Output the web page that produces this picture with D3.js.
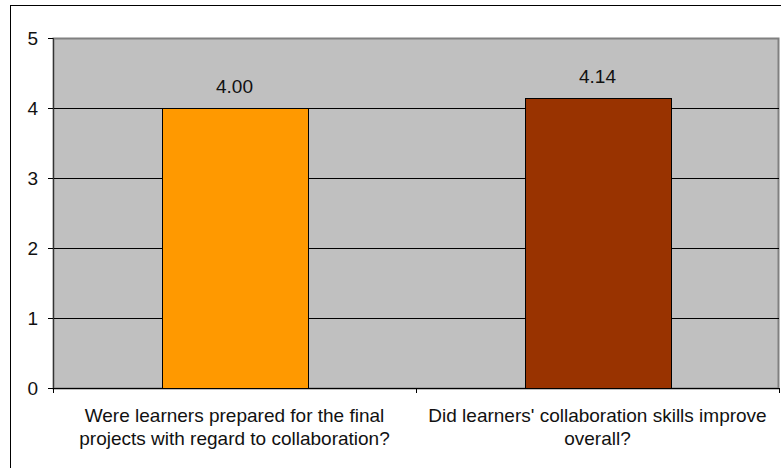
<!DOCTYPE html>
<html>
<head>
<meta charset="utf-8">
<script src="https://cdn.jsdelivr.net/npm/d3@7"></script>
<style>
  body { margin: 0; background: #fff; }
  svg { display: block; font-family: "Liberation Sans", Arial, sans-serif; }
</style>
</head>
<body>
<script>
const categories = [
  ['Were learners prepared for the final', 'projects with regard to collaboration?'],
  ["Did learners' collaboration skills improve", 'overall?'],
];
const values = [4.00, 4.14];
const barColors = ['#FF9900', '#993300'];
const yTicks = [0, 1, 2, 3, 4, 5];

const margin = { top: 38, right: 2, bottom: 80, left: 53 };
const W = 781;
const H = 468;
const width = W - margin.left - margin.right;
const height = H - margin.top - margin.bottom;
const fontSize = '19px';

const svg = d3.select('body').append('svg')
  .attr('width', W)
  .attr('height', H);

// outer chart frame (cropped at right and bottom)
svg.append('rect')
  .attr('x', 10.5)
  .attr('y', 5.5)
  .attr('width', W)
  .attr('height', H)
  .attr('fill', 'none')
  .attr('stroke', '#000');

const g = svg.append('g')
  .attr('transform', `translate(${margin.left}, ${margin.top})`);

const band = width / values.length;
const barWidth = 146;

const y = d3.scaleLinear()
  .domain([0, 5])
  .range([height, 0]);

g.append('rect')
  .attr('x', 0.5)
  .attr('y', 0.5)
  .attr('width', width - 1)
  .attr('height', height)
  .attr('fill', '#C0C0C0')
  .attr('stroke', '#808080')
  .attr('stroke-width', 2);

g.selectAll('.grid')
  .data(yTicks.slice(1, -1))
  .enter().append('line')
  .attr('x1', 0)
  .attr('x2', width)
  .attr('y1', d => Math.round(y(d)) + 0.5)
  .attr('y2', d => Math.round(y(d)) + 0.5)
  .attr('stroke', '#000');

g.selectAll('.bar')
  .data(values)
  .enter().append('rect')
  .attr('x', (d, i) => Math.round(band * i + (band - barWidth) / 2) + 0.5)
  .attr('y', d => Math.round(y(d)) + 0.5)
  .attr('width', barWidth)
  .attr('height', d => height - Math.round(y(d)))
  .attr('fill', (d, i) => barColors[i])
  .attr('stroke', '#000');

g.selectAll('.val')
  .data(values)
  .enter().append('text')
  .attr('x', (d, i) => band * i + band / 2)
  .attr('y', d => y(d) - 15)
  .attr('text-anchor', 'middle')
  .style('font-size', fontSize)
  .attr('fill', '#111')
  .text(d => d.toFixed(2));

// y axis
const yAxis = g.append('g')
  .call(d3.axisLeft(y).tickValues(yTicks).tickSize(5).tickPadding(10).tickFormat(d3.format('d')));
yAxis.select('.domain').attr('stroke', '#333').attr('d', `M0.5,0V${height}`);
yAxis.selectAll('line').attr('stroke', '#000');
yAxis.selectAll('text').style('font-size', fontSize).attr('fill', '#111');

// x axis
g.append('line')
  .attr('x1', 0)
  .attr('x2', width)
  .attr('y1', height + 0.5)
  .attr('y2', height + 0.5)
  .attr('stroke', '#000');

g.selectAll('.xtick')
  .data(d3.range(values.length + 1))
  .enter().append('line')
  .attr('x1', d => Math.round(band * d) + 0.5)
  .attr('x2', d => Math.round(band * d) + 0.5)
  .attr('y1', height)
  .attr('y2', height + 5)
  .attr('stroke', '#000');

const xl = g.selectAll('.xlab')
  .data(categories)
  .enter().append('text')
  .attr('text-anchor', 'middle')
  .attr('transform', (d, i) => `translate(${band * i + band / 2}, ${height + 34})`)
  .attr('fill', '#111')
  .style('font-size', fontSize);

xl.selectAll('tspan')
  .data(d => d)
  .enter().append('tspan')
  .attr('x', 0)
  .attr('dy', (d, i) => (i === 0 ? 0 : 23))
  .text(d => d);
</script>
</body>
</html>
